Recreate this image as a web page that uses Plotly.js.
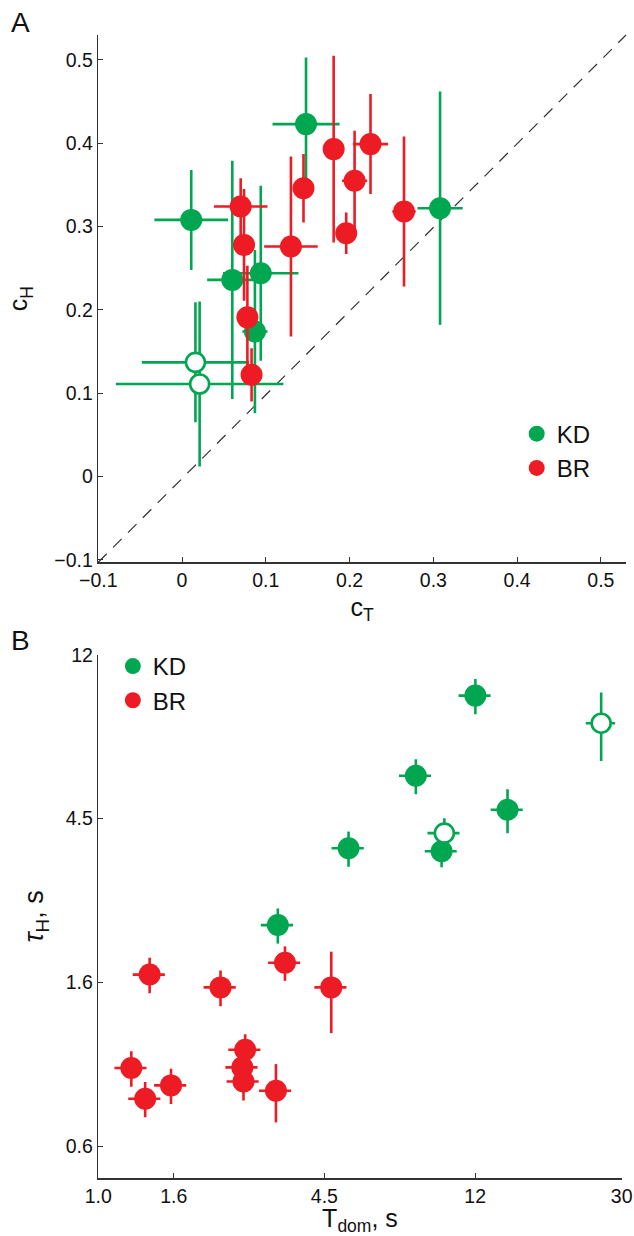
<!DOCTYPE html>
<html><head><meta charset="utf-8">
<script src="https://cdn.plot.ly/plotly-3.0.1.min.js"></script>
<style>html,body{margin:0;padding:0;background:#fff}</style>
</head><body>
<div id="chart" style="width:634px;height:1236px"></div>
<script>
// ---------- Panel A: c_T vs c_H ----------
const kdCT     = [0.011, 0.148, 0.308, 0.060, 0.094, 0.087];
const kdCH     = [0.308, 0.423, 0.322, 0.236, 0.244, 0.174];
const kdCTerr  = [0.044, 0.040, 0.027, 0.030, 0.045, 0.015];
const kdCHerr  = [0.060, 0.080, 0.140, 0.143, 0.105, 0.098];

const kdOpenCT    = [0.016, 0.021];
const kdOpenCH    = [0.137, 0.111];
const kdOpenCTerr = [0.064, 0.100];
const kdOpenCHerr = [0.072, 0.099];

const brCT     = [0.070, 0.074, 0.078, 0.083, 0.130, 0.145, 0.181, 0.196, 0.206, 0.225, 0.265];
const brCH     = [0.324, 0.278, 0.191, 0.122, 0.276, 0.346, 0.393, 0.292, 0.355, 0.399, 0.318];
const brCTerr  = [0.032, 0.013, 0.012, 0.012, 0.032, 0.012, 0.012, 0.011, 0.015, 0.021, 0.014];
const brCHerr  = [0.034, 0.067, 0.062, 0.032, 0.108, 0.041, 0.112, 0.025, 0.060, 0.060, 0.090];

// ---------- Panel B: T_dom vs tau_H ----------
const kdTdom     = [12.2, 8.22, 15.1, 9.75, 5.26, 3.29];
const kdTau      = [9.49, 5.82, 4.73, 3.67, 3.74, 2.34];
const kdTdomErr  = [1.29, 0.87, 1.60, 1.03, 0.56, 0.35];
const kdTauErr   = [1.02, 0.62, 0.63, 0.34, 0.40, 0.25];

const kdOpenTdom    = [28.1, 9.93];
const kdOpenTau     = [8.02, 4.10];
const kdOpenTdomErr = [2.73, 1.05];
const kdOpenTauErr  = [1.65, 0.39];

const brTdom     = [1.406, 2.25, 3.45, 4.69, 2.65, 2.60, 2.62, 1.245, 1.365, 1.62, 3.25];
const brTau      = [1.73, 1.60, 1.86, 1.60, 1.094, 0.982, 0.901, 0.978, 0.811, 0.880, 0.852];
const brTdomErr  = [0.149, 0.239, 0.366, 0.497, 0.281, 0.276, 0.278, 0.132, 0.145, 0.172, 0.345];
const brTauErr   = [0.187, 0.173, 0.195, 0.39, 0.109, 0.10, 0.099, 0.105, 0.087, 0.094, 0.15];

// tick labels
const bXTickVals   = [1.0, 1.65, 4.48, 12.18, 32.2];
const bXTickText   = ['1.0', '1.6', '4.5', '12', '30'];
const bYTickVals   = [0.607, 1.65, 4.48, 12.18];
const bYTickText   = ['0.6', '1.6', '4.5', '12'];

const GREEN = '#00a650';
const RED = '#ed1c24';
const AXC = '#333333';
const TXT = '#111111';
const FONT = 'Liberation Sans, Arial, Helvetica, sans-serif';

function errBar(arr, color) {
  return {type: 'data', array: arr, visible: true, color: color, thickness: 2.6, width: 0};
}
function filled(x, y, ex, ey, color, name, xa, ya, leg, show) {
  return {x: x, y: y, type: 'scatter', mode: 'markers', name: name,
    xaxis: xa, yaxis: ya, legend: leg, showlegend: show,
    marker: {color: color, size: 22, line: {width: 0}},
    error_x: errBar(ex, color), error_y: errBar(ey, color)};
}
function open(x, y, ex, ey, color, xa, ya, leg) {
  return {x: x, y: y, type: 'scatter', mode: 'markers', name: 'KD open',
    xaxis: xa, yaxis: ya, legend: leg, showlegend: false,
    marker: {color: '#ffffff', size: 19, line: {width: 2.6, color: color}},
    error_x: errBar(ex, color), error_y: errBar(ey, color)};
}

const traces = [
  filled(kdCT, kdCH, kdCTerr, kdCHerr, GREEN, 'KD', 'x', 'y', 'legend', true),
  open(kdOpenCT, kdOpenCH, kdOpenCTerr, kdOpenCHerr, GREEN, 'x', 'y', 'legend'),
  filled(brCT, brCH, brCTerr, brCHerr, RED, 'BR', 'x', 'y', 'legend', true),
  filled(kdTdom, kdTau, kdTdomErr, kdTauErr, GREEN, 'KD', 'x2', 'y2', 'legend2', true),
  open(kdOpenTdom, kdOpenTau, kdOpenTdomErr, kdOpenTauErr, GREEN, 'x2', 'y2', 'legend2'),
  filled(brTdom, brTau, brTdomErr, brTauErr, RED, 'BR', 'x2', 'y2', 'legend2', true)
];

const axBase = {
  showline: true, linecolor: AXC, linewidth: 1.5, showgrid: false, zeroline: false,
  ticks: 'inside', ticklen: 5, tickwidth: 1, tickcolor: AXC,
  tickfont: {family: FONT, size: 19.5, color: TXT}, automargin: false
};

const layout = {
  width: 634, height: 1236,
  margin: {l: 0, r: 0, t: 0, b: 0, pad: 0},
  paper_bgcolor: '#ffffff', plot_bgcolor: '#ffffff',
  font: {family: FONT, color: TXT},
  xaxis: Object.assign({}, axBase, {
    domain: [0.155, 0.9874], range: [-0.1, 0.53], tick0: 0, dtick: 0.1, anchor: 'y',
    title: {text: 'c<sub>T</sub>', font: {family: FONT, size: 25, color: TXT}, standoff: 8}
  }),
  yaxis: Object.assign({}, axBase, {
    domain: [0.5451, 0.9717], range: [-0.103, 0.53], tick0: 0, dtick: 0.1, anchor: 'x',
    title: {text: 'c<sub>H</sub>', font: {family: FONT, size: 25, color: TXT}, standoff: 19}
  }),
  xaxis2: Object.assign({}, axBase, {
    type: 'log', domain: [0.155, 0.9806], range: [0, Math.log10(32.2)], anchor: 'y2',
    tickmode: 'array', tickvals: bXTickVals, ticktext: bXTickText,
    title: {text: 'T<sub>dom</sub>, s', font: {family: FONT, size: 25, color: TXT}, standoff: 13}
  }),
  yaxis2: Object.assign({}, axBase, {
    type: 'log', domain: [0.0469, 0.4703], range: [Math.log10(0.5), Math.log10(12.18)], anchor: 'x2',
    tickmode: 'array', tickvals: bYTickVals, ticktext: bYTickText,
    title: {text: '<i>τ</i><sub>H</sub>, s', font: {family: FONT, size: 27, color: TXT}, standoff: 14}
  }),
  legend: {x: 0.815, y: 0.667, xanchor: 'left', yanchor: 'top', bgcolor: 'rgba(0,0,0,0)',
    font: {family: FONT, size: 24, color: TXT}, tracegroupgap: 0, itemwidth: 30},
  legend2: {x: 0.178, y: 0.479, xanchor: 'left', yanchor: 'top', bgcolor: 'rgba(0,0,0,0)',
    font: {family: FONT, size: 24, color: TXT}, tracegroupgap: 0, itemwidth: 30},
  shapes: [{type: 'line', xref: 'x domain', yref: 'y domain', x0: 0, y0: 0, x1: 1, y1: 1,
    line: {color: AXC, width: 1.2, dash: '12px,9px'}, layer: 'below'}],
  annotations: [
    {text: 'A', xref: 'paper', yref: 'paper', x: 0.032, y: 0.982, showarrow: false,
      xanchor: 'center', yanchor: 'middle', font: {family: FONT, size: 28, color: TXT}},
    {text: 'B', xref: 'paper', yref: 'paper', x: 0.032, y: 0.482, showarrow: false,
      xanchor: 'center', yanchor: 'middle', font: {family: FONT, size: 28, color: TXT}}
  ]
};

Plotly.newPlot('chart', traces, layout, {displayModeBar: false, staticPlot: true});
</script>
</body></html>
